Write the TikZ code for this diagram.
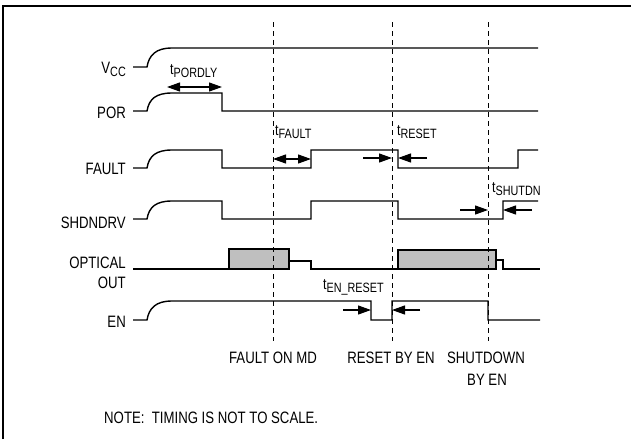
\documentclass[tikz,border=0pt]{standalone}
\usepackage{fontspec}
\setmainfont{Liberation Sans}[FakeStretch=0.8]
\usetikzlibrary{arrows.meta}
\newcommand\tsub[1]{{\fontsize{15.5}{15.5}\selectfont t}\raisebox{-3.5pt}{\fontsize{13.5}{13.5}\selectfont #1}}
\begin{document}
\begin{tikzpicture}[x=1pt,y=-1pt,
  sig/.style={line width=1.4pt, line join=miter},
  guide/.style={line width=0.8pt, dash pattern=on 5pt off 4pt},
  lbl/.style={anchor=base east, inner sep=0pt, font=\fontsize{16.5}{16.5}\selectfont},
  captxt/.style={anchor=base, inner sep=0pt, font=\fontsize{16.5}{16.5}\selectfont},
  tlbl/.style={anchor=base west, inner sep=0pt},
  tarr/.style={line width=1.2pt, -{Triangle[length=13pt,width=9pt]}},
  tarr2/.style={line width=1.2pt, {Triangle[length=13pt,width=9pt]}-{Triangle[length=13pt,width=9pt]}},
  pulse/.style={line width=1.4pt, fill=black!25}]
\useasboundingbox (0,0) rectangle (631,439);
% frame
\draw[line width=2.4pt] (3,439) -- (3,6) -- (631,6);

% VCC
\node[lbl] (lvcc) at (126,73) {V\raisebox{-3pt}{\fontsize{13.5}{13.5}\selectfont CC}};
\draw[sig] (133,67) -- (147,67) .. controls (149,55) and (156,48) .. (172,48) -- (538,48);

% POR
\node[lbl] (lpor) at (126,118) {POR};
\draw[sig] (133,111) -- (147,111) .. controls (149,99) and (156,93) .. (172,93) -- (222,93) -- (222,111) -- (538,111);

% FAULT
\node[lbl] (lfault) at (126,174) {FAULT};
\draw[sig] (133,168) -- (147,168) .. controls (149,156) and (156,150) .. (172,150) -- (222,150) -- (222,168) -- (311,168) -- (311,150) -- (398,150) -- (398,168) -- (518,168) -- (518,150) -- (538,150);

% SHDNDRV
\node[lbl] (lshdn) at (126,228) {SHDNDRV};
\draw[sig] (133,219) -- (147,219) .. controls (149,207) and (156,201) .. (172,201) -- (222,201) -- (222,219) -- (311,219) -- (311,201) -- (398,201) -- (398,219) -- (503,219) -- (503,201) -- (538,201);

% OPTICAL OUT
\node[lbl] (lopt) at (126,268) {OPTICAL};
\node[lbl] (lout) at (126,288) {OUT};
\draw[sig] (133,269) -- (229,269);
\draw[pulse] (229,249) rectangle (289,269);
\draw[sig] (289,261) -- (311,261) -- (311,269) -- (398,269);
\draw[pulse] (398,250) rectangle (496,269);
\draw[sig] (496,260) -- (503,260) -- (503,269) -- (540,269);

% EN
\node[lbl] (len) at (126,327) {EN};
\draw[sig] (133,320) -- (147,320) .. controls (149,308) and (156,301) .. (172,301) -- (371,301) -- (371,320) -- (392,320) -- (392,301) -- (488,301) -- (488,320) -- (540,320);

% guide lines
\coordinate (g1t) at (273,22); \coordinate (g1b) at (273,341);
\coordinate (g2t) at (392,22); \coordinate (g2b) at (392,341);
\coordinate (g3t) at (488,22); \coordinate (g3b) at (488,341);
\draw[guide] (g1t) -- (g1b);
\draw[guide] (g2t) -- (g2b);
\draw[guide] (g3t) -- (g3b);

% timing arrows
\coordinate (p1) at (167,87); \coordinate (p2) at (222,87);
\draw[tarr2] (p1) -- (p2);
\node[tlbl] (tpor) at (170,74) {\tsub{PORDLY}};

\coordinate (f1) at (273,159); \coordinate (f2) at (311,159);
\draw[tarr2] (f1) -- (f2);
\node[tlbl] (tf) at (275,135) {\tsub{FAULT}};

\coordinate (r1) at (363,158); \coordinate (r2) at (392,158);
\coordinate (r3) at (427,158); \coordinate (r4) at (398,158);
\draw[tarr] (r1) -- (r2);
\draw[tarr] (r3) -- (r4);
\node[tlbl] (tr) at (397,135) {\tsub{RESET}};

\coordinate (s1) at (460,210); \coordinate (s2) at (488,210);
\coordinate (s3) at (532,210); \coordinate (s4) at (503,210);
\draw[tarr] (s1) -- (s2);
\draw[tarr] (s3) -- (s4);
\node[tlbl] (ts) at (492,192) {\tsub{SHUTDN}};

\coordinate (e1) at (343,310); \coordinate (e2) at (371,310);
\coordinate (e3) at (420,310); \coordinate (e4) at (392,310);
\draw[tarr] (e1) -- (e2);
\draw[tarr] (e3) -- (e4);
\node[tlbl] (te) at (323,289) {\tsub{EN\_RESET}};

% bottom captions
\node[captxt] (c1) at (273,363) {FAULT ON MD};
\node[captxt] (c2) at (391,363) {RESET BY EN};
\node[captxt] (c3) at (486,363) {SHUTDOWN};
\node[captxt] (c4) at (487,385) {BY EN};
\node[captxt, anchor=base west] (note) at (104,423) {NOTE:\ \ TIMING IS NOT TO SCALE.};
\end{tikzpicture}
\end{document}
